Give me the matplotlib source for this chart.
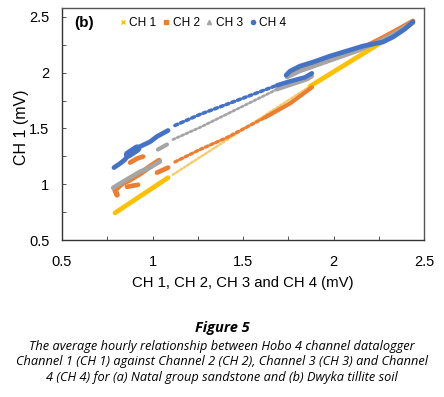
import matplotlib
matplotlib.use("Agg")
import matplotlib.pyplot as plt
from matplotlib.lines import Line2D

plt.rcParams['font.family'] = ['Liberation Sans', 'DejaVu Sans']

# ---------------- data ----------------
series_names = ["CH 1", "CH 2", "CH 3", "CH 4"]
series_colors = ["#FFC000", "#ED7D31", "#A5A5A5", "#4472C4"]
series_markers = ["x", "s", "^", "o"]

# CH 1
ch1_a_x = [0.793, 1.086]
ch1_a_y = [0.743, 1.059]
ch1_b_x = [1.113, 1.870]          # sparse
ch1_b_y = [1.086, 1.878]
ch1_c_x = [1.870, 2.439]
ch1_c_y = [1.878, 2.446]

# CH 2
ch2_a_x = [0.804, 0.793, 0.831, 0.876, 0.931, 0.986, 1.036]
ch2_a_y = [0.905, 0.950, 1.005, 1.041, 1.095, 1.158, 1.212]
ch2_b_x = [0.876, 0.914, 0.948]
ch2_b_y = [1.194, 1.230, 1.248]
ch2_c_x = [0.859, 0.920]
ch2_c_y = [0.977, 0.995]
ch2_d_x = [1.025, 1.086]
ch2_d_y = [1.104, 1.149]
ch2_e_x = [1.124, 1.262, 1.412, 1.622]   # sparse
ch2_e_y = [1.200, 1.311, 1.419, 1.599]
ch2_f_x = [1.622, 1.760, 1.881]
ch2_f_y = [1.599, 1.725, 1.869]
ch2_g_x = [1.743, 1.815, 1.925, 2.036, 2.146, 2.257, 2.340, 2.439]
ch2_g_y = [1.968, 2.023, 2.086, 2.149, 2.212, 2.302, 2.374, 2.464]

# CH 3
ch3_a_x = [0.782, 0.837, 0.931, 0.986, 1.041]
ch3_a_y = [0.968, 1.023, 1.113, 1.149, 1.203]
ch3_b_x = [1.030, 1.080]
ch3_b_y = [1.311, 1.356]
ch3_c_x = [1.113, 1.262, 1.688]          # sparse
ch3_c_y = [1.401, 1.509, 1.851]
ch3_d_x = [1.688, 1.854, 1.881]
ch3_d_y = [1.851, 1.941, 1.968]
ch3_e_x = [1.743, 1.815, 1.925, 2.036, 2.146, 2.257, 2.340, 2.439]
ch3_e_y = [1.959, 2.014, 2.077, 2.140, 2.203, 2.284, 2.356, 2.455]

# CH 4
ch4_a_x = [0.787, 0.820, 0.848, 0.865, 0.887, 0.903, 0.931, 0.986, 1.025, 1.086]
ch4_a_y = [1.149, 1.185, 1.221, 1.260, 1.284, 1.302, 1.338, 1.380, 1.428, 1.482]
ch4_blob_x = [0.865, 0.915]
ch4_blob_y = [1.266, 1.320]
ch4_b_x = [1.124, 1.262, 1.483, 1.688]   # sparse
ch4_b_y = [1.527, 1.626, 1.761, 1.887]
ch4_c_x = [1.688, 1.760, 1.843, 1.881]
ch4_c_y = [1.887, 1.923, 1.959, 1.995]
ch4_d_x = [1.738, 1.760, 1.815, 1.887, 1.981, 2.091, 2.163, 2.273, 2.329, 2.395, 2.439]
ch4_d_y = [1.977, 2.014, 2.059, 2.095, 2.149, 2.203, 2.239, 2.275, 2.320, 2.392, 2.455]

x_ticks = [0.5, 1, 1.5, 2, 2.5]
y_ticks = [0.5, 1, 1.5, 2, 2.5]
x_tick_labels = ["0.5", "1", "1.5", "2", "2.5"]
y_tick_labels = ["0.5", "1", "1.5", "2", "2.5"]

caption_title = "Figure 5"
caption_text = ("The average hourly relationship between Hobo 4 channel datalogger\n"
                "Channel 1 (CH 1) against Channel 2 (CH 2), Channel 3 (CH 3) and Channel\n"
                "4 (CH 4) for (a) Natal group sandstone and (b) Dwyka tillite soil")

# ---------------- drawing ----------------
fig = plt.figure(figsize=(4.44, 3.97), dpi=100)
ax = fig.add_axes([62/444, 1-240/397, (424-62)/444, (240-8)/397])

DENSE_LW = 3.4
SPARSE_LW = 2.4

def dense(x, y, c, lw=DENSE_LW):
    ax.plot(x, y, color=c, lw=lw, solid_capstyle='round', solid_joinstyle='round')

def sparse(x, y, c, lw=SPARSE_LW):
    ax.plot(x, y, color=c, lw=lw, linestyle=(0, (0.8, 0.9)), dash_capstyle='round')

c1, c2, c3, c4 = series_colors
dense(ch1_a_x, ch1_a_y, c1)
sparse(ch1_b_x, ch1_b_y, "#F8CB6A", lw=1.8)
dense(ch1_c_x, ch1_c_y, c1)

dense(ch2_a_x, ch2_a_y, c2, lw=4.0)
dense(ch2_b_x, ch2_b_y, c2)
dense(ch2_c_x, ch2_c_y, c2)
dense(ch2_d_x, ch2_d_y, c2)
sparse(ch2_e_x, ch2_e_y, c2)
dense(ch2_f_x, ch2_f_y, c2, lw=3.0)
dense(ch2_g_x, ch2_g_y, c2, lw=3.4)

dense(ch3_a_x, ch3_a_y, c3, lw=3.2)
dense(ch3_b_x, ch3_b_y, c3, lw=3.0)
sparse(ch3_c_x, ch3_c_y, c3, lw=2.0)
dense(ch3_d_x, ch3_d_y, c3, lw=3.0)
dense(ch3_e_x, ch3_e_y, c3, lw=3.0)

dense(ch4_a_x, ch4_a_y, c4)
dense(ch4_blob_x, ch4_blob_y, c4, lw=6)
sparse(ch4_b_x, ch4_b_y, c4, lw=2.6)
dense(ch4_c_x, ch4_c_y, c4, lw=3.2)
dense(ch4_d_x, ch4_d_y, c4, lw=3.4)

ax.set_xlim(0.5, 2.5)
ax.set_ylim(0.5, 2.58)
ax.set_xticks(x_ticks)
ax.set_xticklabels(x_tick_labels)
ax.set_yticks(y_ticks)
ax.set_yticklabels(y_tick_labels)
ax.set_xticks([0.75, 1.25, 1.75, 2.25], minor=True)
ax.set_yticks([0.75, 1.25, 1.75, 2.25], minor=True)
ax.tick_params(which='both', direction='in', length=3, width=0.7, colors='#555555',
               labelcolor='black', labelsize=10.5)
ax.tick_params(axis='x', pad=11)
ax.tick_params(axis='y', pad=9)
for s in ax.spines.values():
    s.set_linewidth(1.0)
    s.set_color('#333333')
ax.spines['top'].set_color('#555555')
ax.spines['right'].set_color('#555555')

ax.set_xlabel("CH 1, CH 2, CH 3 and CH 4 (mV)", fontsize=10.7)
ax.set_ylabel("CH 1 (mV)", fontsize=11.5)
ax.xaxis.set_label_coords(0.5, (240 - 283) / 232, transform=ax.transAxes)
ax.yaxis.set_label_coords((22 - 62) / 362, (240 - 127) / 232, transform=ax.transAxes)
ax.xaxis.label.set_va('center')
ax.yaxis.label.set_va('center')

ax.text(0.035, 0.935, "(b)", transform=ax.transAxes, fontsize=11, fontweight='bold',
        va='center', ha='left')

handles = [Line2D([], [], linestyle='none', marker=m, color=c, markersize=ms, mew=1)
           for m, c, ms in zip(series_markers, series_colors, [3.5, 3, 3, 3])]
ax.legend(handles, series_names, loc='center left', bbox_to_anchor=(0.16, 0.935),
          ncol=4, frameon=False, fontsize=8.6, handlelength=0.5, handletextpad=0.3,
          columnspacing=0.55, borderpad=0, borderaxespad=0)

fig.text(0.5, 1-328/397, caption_title, ha='center', va='center', fontsize=10.5,
         fontweight='bold', fontstyle='italic', family=['Open Sans', 'DejaVu Sans'])
fig.text(0.5, 1-362/397, caption_text, ha='center', va='center', fontsize=9.2,
         fontstyle='italic', family=['Open Sans', 'DejaVu Sans'], linespacing=1.25)

fig.savefig("out.png", dpi=100)
